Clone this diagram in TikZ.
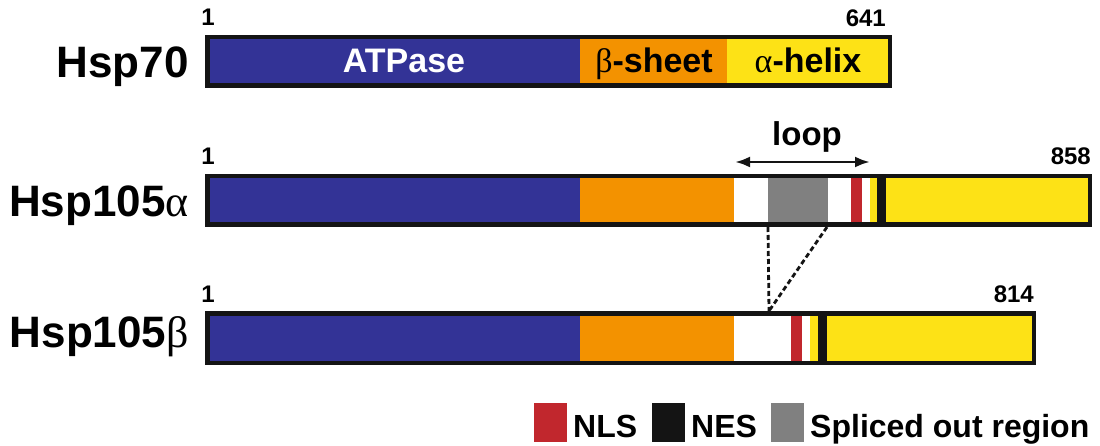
\documentclass[tikz,border=0pt]{standalone}
\usepackage{fontspec}
\setmainfont{Liberation Sans}
\newfontfamily\grk{Liberation Serif}
\usetikzlibrary{arrows.meta}
\definecolor{cblue}{RGB}{51,51,150}
\definecolor{corange}{RGB}{243,146,0}
\definecolor{cyellow}{RGB}{253,226,22}
\definecolor{cred}{RGB}{193,39,45}
\definecolor{cgray}{RGB}{128,128,128}
\definecolor{cblack}{RGB}{20,20,20}
\begin{document}
\begin{tikzpicture}[x=1pt,y=-1pt,
  protname/.style={anchor=base east,inner sep=0pt,font=\fontsize{44}{44}\selectfont\bfseries},
  resnum/.style={inner sep=0pt,font=\fontsize{24}{24}\selectfont\bfseries},
  domlabel/.style={anchor=base,inner sep=0pt,font=\fontsize{34}{34}\selectfont\bfseries},
  barframe/.style={draw=cblack,line width=4.5pt},
  legsq/.style={minimum width=33pt,minimum height=39pt,inner sep=0pt},
  legtxt/.style={anchor=base west,inner sep=0pt,font=\fontsize{32}{32}\selectfont\bfseries},
  splice/.style={line width=2.8pt,dash pattern=on 5pt off 3pt,cblack}
]
\useasboundingbox (0,0) rectangle (1100,446);

% ---------- Hsp70 ----------
\fill[cblue]   (205,35) rectangle (580,88);
\fill[corange] (580,35) rectangle (727,88);
\fill[cyellow] (727,35) rectangle (892,88);
\draw[barframe] (207.25,37.25) rectangle (889.75,85.75);
\node[protname] (n70) at (189,78) {Hsp70};
\node[resnum,anchor=base] (s70) at (208,26) {1};
\node[resnum,anchor=base east] (e70) at (886,27) {641};
\node[domlabel,text=white] (atp) at (404,73) {ATPase};
\node[domlabel] (bsh) at (654,73) {{\grk\mdseries β}-sheet};
\node[domlabel] (ahx) at (808,73) {{\grk\mdseries α}-helix};

% ---------- Hsp105 alpha ----------
\fill[cblue]   (205,174) rectangle (580,227);
\fill[corange] (580,174) rectangle (734,227);
\fill[white]   (734,174) rectangle (768,227);
\fill[cgray]   (768,174) rectangle (828,227);
\fill[white]   (828,174) rectangle (851,227);
\fill[cred]    (851,174) rectangle (862,227);
\fill[white]   (862,174) rectangle (870,227);
\fill[cyellow] (870,174) rectangle (877,227);
\fill[cblack]  (877,174) rectangle (886,227);
\fill[cyellow] (886,174) rectangle (1092,227);
\draw[barframe] (207.25,176.25) rectangle (1089.75,224.75);
\node[protname] (n105a) at (189,217) {Hsp105{\grk\mdseries α}};
\node[resnum,anchor=base] (s105a) at (208,165) {1};
\node[resnum,anchor=base east] (e105a) at (1091,165) {858};

% loop arrow
\coordinate (loopL) at (735,162);
\coordinate (loopR) at (870,162);
\draw[line width=2.8pt,cblack,{Latex[length=15pt,width=11pt]}-{Latex[length=15pt,width=11pt]}] (loopL) -- (loopR);
\node[domlabel,font=\fontsize{33}{33}\selectfont\bfseries] (loop) at (807,146) {loop};

% ---------- Hsp105 beta ----------
\fill[cblue]   (205,311) rectangle (580,365);
\fill[corange] (580,311) rectangle (734,365);
\fill[white]   (734,311) rectangle (791,365);
\fill[cred]    (791,311) rectangle (802,365);
\fill[white]   (802,311) rectangle (810,365);
\fill[cyellow] (810,311) rectangle (818,365);
\fill[cblack]  (818,311) rectangle (827,365);
\fill[cyellow] (827,311) rectangle (1036,365);
\draw[barframe] (207.25,313.25) rectangle (1033.75,362.75);
\node[protname] (n105b) at (189,347) {Hsp105{\grk\mdseries β}};
\node[resnum,anchor=base] (s105b) at (208,302) {1};
\node[resnum,anchor=base east] (e105b) at (1034,302) {814};

% splice lines
\coordinate (gL) at (768,227);
\coordinate (gR) at (827,227);
\coordinate (jn) at (769,311);
\draw[splice] (gL) -- (jn);
\draw[splice] (gR) -- (jn);

% ---------- legend ----------
\node[legsq,fill=cred,anchor=north west] (lnls) at (534,403) {};
\node[legtxt] (tnls) at (573,437) {NLS};
\node[legsq,fill=cblack,anchor=north west] (lnes) at (652,403) {};
\node[legtxt] (tnes) at (691,437) {NES};
\node[legsq,fill=cgray,anchor=north west] (lspl) at (771,403) {};
\node[legtxt] (tspl) at (810,437) {Spliced out region};
\end{tikzpicture}
\end{document}
